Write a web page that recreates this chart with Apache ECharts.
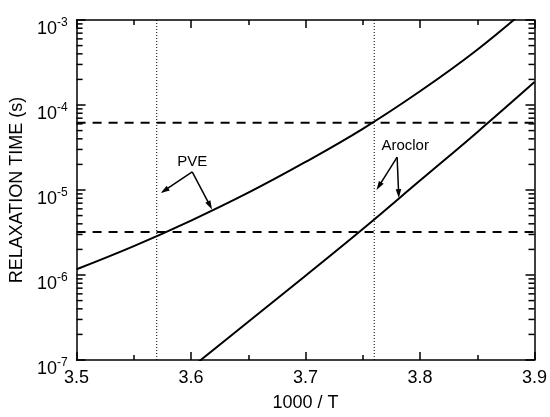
<!DOCTYPE html>
<html>
<head>
<meta charset="utf-8">
<script src="https://cdn.jsdelivr.net/npm/echarts@6/dist/echarts.min.js"></script>
<style>
html,body{margin:0;padding:0;background:#fff;}
#chart{width:550px;height:417px;}
</style>
</head>
<body>
<div id="chart"></div>
<script>
// ---- data ----
var xMin = 3.5, xMax = 3.9, xStep = 0.1;
var yMin = 1e-7, yMax = 1e-3;

var pveX   = [3.50, 3.55, 3.60, 3.65, 3.70, 3.75, 3.80, 3.85, 3.90];
var pveTau = [1.17e-6, 2.19e-6, 4.37e-6, 9.3e-6, 2.14e-5, 5.25e-5, 1.45e-4, 4.47e-4, 1.62e-3];

var aroX   = [3.60, 3.65, 3.70, 3.75, 3.80, 3.85, 3.90];
var aroTau = [8.1e-8, 2.82e-7, 9.8e-7, 3.47e-6, 1.29e-5, 4.79e-5, 1.86e-4];

var dashedLevels = [6.2e-5, 3.2e-6];   // horizontal dashed lines
var dottedX = [3.57, 3.76];            // vertical dotted lines

var annText   = ['PVE', 'Aroclor'];
var annLabel  = [[3.601, 2.13e-5], [3.787, 3.32e-5]];
var annBase   = [[3.601, 1.63e-5], [3.780, 2.43e-5]];
var annTips   = [[[3.5735, 9.2e-6], [3.6183, 5.9e-6]],
                 [[3.762, 1.0e-5], [3.7815, 8.05e-6]]];

var minorY = [];
[-7, -6, -5, -4].forEach(function (e) {
  for (var m = 2; m <= 9; m++) minorY.push(m * Math.pow(10, e));
});

function zip(a, b) { return a.map(function (v, i) { return [v, b[i]]; }); }

var FONT = '"Liberation Sans", Arial, Helvetica, sans-serif';
var chart = echarts.init(document.getElementById('chart'));

var series = [];
series.push({
  type: 'line', name: 'PVE', data: zip(pveX, pveTau), smooth: 0.4, symbol: 'none',
  clip: true, lineStyle: {color: '#000', width: 2}, z: 5
});
series.push({
  type: 'line', name: 'Aroclor', data: zip(aroX, aroTau), smooth: 0.4, symbol: 'none',
  clip: true, lineStyle: {color: '#000', width: 2}, z: 5
});
dashedLevels.forEach(function (lv) {
  series.push({
    type: 'line', data: [[xMin, lv], [xMax, lv]], symbol: 'none', silent: true,
    lineStyle: {color: '#000', width: 2, type: [9, 7]}, z: 3
  });
});
dottedX.forEach(function (xv) {
  series.push({
    type: 'line', data: [[xv, yMin], [xv, yMax]], symbol: 'none', silent: true,
    lineStyle: {color: '#000', width: 1, type: [1, 2]}, z: 3
  });
});
// log minor ticks on left and right
series.push({
  type: 'custom', silent: true, z: 10, clip: false,
  data: minorY.map(function (v) { return [xMin, v]; }),
  encode: {x: 0, y: 1},
  renderItem: function (params, api) {
    var v = api.value(1);
    var pl = api.coord([xMin, v]);
    var pr = api.coord([xMax, v]);
    var st = {stroke: '#000', lineWidth: 1.5};
    return {type: 'group', children: [
      {type: 'line', shape: {x1: pl[0], y1: pl[1], x2: pl[0] + 6, y2: pl[1]}, style: st},
      {type: 'line', shape: {x1: pr[0], y1: pr[1], x2: pr[0] - 6, y2: pr[1]}, style: st}
    ]};
  }
});
// annotations with arrows
series.push({
  type: 'custom', silent: true, z: 12, clip: false,
  data: annLabel.map(function (p) { return [p[0], p[1]]; }),
  encode: {x: 0, y: 1},
  renderItem: function (params, api) {
    var i = params.dataIndex;
    var lp = api.coord(annLabel[i]);
    var bp = api.coord(annBase[i]);
    var kids = [{
      type: 'text',
      style: {text: annText[i], x: lp[0], y: lp[1], align: 'center', verticalAlign: 'middle',
              fontSize: 15, fontFamily: FONT, fill: '#000'}
    }];
    annTips[i].forEach(function (t) {
      var tp = api.coord(t);
      var dx = tp[0] - bp[0], dy = tp[1] - bp[1];
      var len = Math.sqrt(dx * dx + dy * dy);
      var ux = dx / len, uy = dy / len;
      var L = 9, W = 2.8;
      var bx = tp[0] - ux * L, by = tp[1] - uy * L;
      kids.push({type: 'line', shape: {x1: bp[0], y1: bp[1], x2: bx + ux * 3, y2: by + uy * 3},
                 style: {stroke: '#000', lineWidth: 1.5}});
      kids.push({type: 'polygon', shape: {points: [
        [tp[0], tp[1]], [bx - uy * W, by + ux * W], [bx + uy * W, by - ux * W]]},
        style: {fill: '#000'}});
    });
    return {type: 'group', children: kids};
  }
});

var axisLineStyle = {color: '#000', width: 1.5};
function xAxisDef(pos, show) {
  return {
    type: 'value', position: pos, min: xMin, max: xMax, interval: xStep,
    axisLine: {show: true, onZero: false, lineStyle: axisLineStyle},
    axisTick: {show: true, inside: true, length: 8, lineStyle: {color: '#000', width: 1.5}},
    minorTick: {show: true, splitNumber: 2, length: 5, lineStyle: {color: '#000', width: 1.5}},
    splitLine: {show: false}, minorSplitLine: {show: false},
    axisLabel: {show: show, color: '#000', fontSize: 18, fontFamily: FONT, margin: 9,
                formatter: function (v) { return v.toFixed(1); }},
    name: show ? '1000 / T' : '', nameLocation: 'middle', nameGap: 34,
    nameTextStyle: {color: '#000', fontSize: 18, fontFamily: FONT}
  };
}
function yAxisDef(pos, show) {
  return {
    type: 'log', logBase: 10, position: pos, min: yMin, max: yMax,
    axisLine: {show: true, onZero: false, lineStyle: axisLineStyle},
    axisTick: {show: true, inside: true, length: 9, lineStyle: {color: '#000', width: 1.5}},
    splitLine: {show: false},
    axisLabel: {
      show: show, color: '#000', margin: 9, padding: [18, 0, 0, 0],
      formatter: function (v) {
        var e = Math.round(Math.log10(v));
        return '{b|10}{s|' + e + '}';
      },
      rich: {
        b: {fontSize: 18, fontFamily: FONT, color: '#000', lineHeight: 25},
        s: {fontSize: 12, fontFamily: FONT, color: '#000', verticalAlign: 'top', lineHeight: 12}
      }
    },
    name: show ? 'RELAXATION TIME (s)' : '', nameLocation: 'middle', nameGap: 47,
    nameTextStyle: {color: '#000', fontSize: 18, fontFamily: FONT}
  };
}

chart.setOption({
  backgroundColor: '#fff',
  animation: false,
  grid: {left: 76, right: 15, top: 20, bottom: 50, containLabel: false},
  xAxis: [xAxisDef('bottom', true), xAxisDef('top', false)],
  yAxis: [yAxisDef('left', true), yAxisDef('right', false)],
  series: series
});
</script>
</body>
</html>
